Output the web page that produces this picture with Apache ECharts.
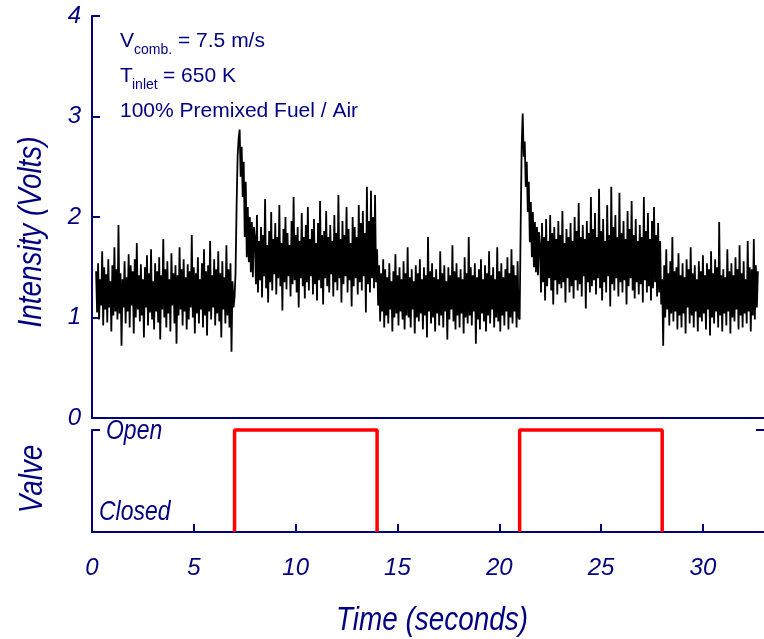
<!DOCTYPE html>
<html>
<head>
<meta charset="utf-8">
<script src="https://cdn.jsdelivr.net/npm/echarts@6/dist/echarts.min.js"></script>
<style>html,body{margin:0;padding:0;background:#fff;}#c{width:764px;height:639px;}</style>
</head>
<body>
<div id="c"></div>
<script>
// ---- data ----
const sampleStart = 0.2;   // seconds, first sample of the trace
const sampleStep = 0.05;   // seconds between samples
const intensity = [
  // 0.2 - 6.95 s : baseline (valve closed)
  1.46,1.05,1.54,0.98,1.38,1.12,1.66,0.92,1.50,1.08,
  1.43,0.95,1.58,1.10,1.36,0.86,1.52,1.02,1.70,1.06,
  1.48,0.98,1.92,1.04,1.44,0.72,1.38,1.10,1.56,0.94,
  1.40,1.06,1.63,0.90,1.52,1.12,1.46,0.84,1.58,1.00,
  1.74,1.08,1.42,0.96,1.53,1.02,1.38,0.80,1.50,1.10,
  1.62,0.92,1.44,1.05,1.68,0.98,1.36,0.88,1.54,1.06,
  1.46,0.95,1.60,0.78,1.42,1.08,1.78,1.00,1.48,0.90,
  1.56,1.04,1.38,0.86,1.64,1.12,1.44,0.94,1.52,0.74,
  1.42,1.02,1.70,1.08,1.48,0.92,1.58,1.06,1.40,0.88,
  1.53,0.98,1.46,1.10,1.82,1.00,1.50,0.84,1.44,1.04,
  1.60,0.94,1.38,1.08,1.54,0.90,1.68,1.02,1.46,0.82,
  1.52,1.06,1.76,0.98,1.42,1.10,1.58,0.92,1.48,1.04,
  1.66,0.96,1.44,0.80,1.56,1.08,1.40,0.94,1.72,1.02,
  1.48,0.90,1.54,0.66,1.36,1.10,
  // 7.0 - 7.95 s : first transient peak
  1.20,1.45,2.10,2.60,2.78,2.87,2.40,2.70,2.20,2.55,
  1.80,2.35,1.60,2.10,1.55,2.00,1.45,1.95,1.40,1.90,
  // 8.0 - 13.95 s : valve open
  1.80,1.33,2.02,1.25,1.76,1.37,1.90,1.20,1.82,1.41,
  2.18,1.29,1.72,1.15,1.86,1.35,2.05,1.27,1.78,1.43,
  1.94,1.23,1.80,1.39,2.12,1.31,1.74,1.07,1.88,1.35,
  2.00,1.28,1.84,1.41,1.72,1.21,1.96,1.33,2.20,1.37,
  1.82,1.25,1.90,1.10,1.76,1.39,2.04,1.31,1.80,1.19,
  1.92,1.35,2.10,1.27,1.78,1.41,1.88,1.23,1.98,1.33,
  1.74,1.17,1.94,1.37,2.16,1.29,1.82,1.13,1.86,1.39,
  2.06,1.31,1.80,1.25,1.92,1.43,1.76,1.21,2.02,1.35,
  1.84,1.27,2.22,1.39,1.78,1.15,1.96,1.33,1.82,1.41,
  2.10,1.25,1.88,1.37,1.74,1.11,2.00,1.31,1.90,1.39,
  1.80,1.23,2.12,1.35,1.94,1.27,2.06,1.41,1.84,1.05,
  2.30,1.33,1.96,1.25,2.26,1.39,2.00,1.29,2.22,1.35,
  // 14.0 - 20.95 s : baseline (valve closed)
  1.68,1.12,1.52,0.96,1.44,1.06,1.58,0.90,1.48,1.02,
  1.40,0.94,1.54,1.08,1.36,0.86,1.46,1.00,1.63,1.04,
  1.42,0.92,1.50,1.06,1.38,0.98,1.56,0.88,1.44,1.02,
  1.70,1.00,1.40,0.90,1.48,1.08,1.36,0.84,1.52,1.00,
  1.44,0.96,1.58,1.04,1.38,0.88,1.50,1.02,1.42,0.80,
  1.80,1.06,1.46,0.94,1.54,1.00,1.40,0.86,1.48,1.04,
  1.38,0.92,1.66,1.02,1.44,0.90,1.52,1.06,1.36,0.78,
  1.50,0.98,1.42,1.08,1.72,0.96,1.46,0.88,1.54,1.02,
  1.40,0.90,1.48,1.04,1.38,0.84,1.60,1.00,1.44,0.94,
  1.80,1.02,1.50,0.92,1.42,1.06,1.54,0.74,1.40,0.98,
  1.48,0.88,1.58,1.04,1.38,0.96,1.52,0.86,1.44,1.02,
  1.66,0.94,1.42,1.08,1.50,0.90,1.38,1.00,1.70,0.96,
  1.46,0.86,1.54,1.02,1.40,0.92,1.48,1.06,1.60,0.88,
  1.44,1.00,1.68,0.94,1.52,1.06,1.42,0.90,1.56,1.00,
  // 21.0 - 21.95 s : second transient peak
  0.98,1.90,2.70,3.03,2.60,2.75,2.30,2.55,2.05,2.35,
  1.75,2.15,1.60,2.05,1.50,1.95,1.45,1.90,1.42,1.85,
  // 22.0 - 27.95 s : valve open
  1.72,1.25,1.94,1.35,1.80,1.17,1.98,1.31,1.76,1.39,
  2.02,1.27,1.84,1.13,1.90,1.37,1.78,1.23,1.96,1.33,
  1.82,1.29,2.06,1.35,1.74,1.15,1.88,1.39,1.80,1.25,
  1.94,1.31,1.76,1.19,2.00,1.37,1.86,1.27,2.14,1.33,
  1.80,1.21,1.92,1.41,1.78,1.09,1.96,1.35,1.84,1.25,
  2.20,1.31,1.88,1.37,2.04,1.23,1.80,1.39,2.28,1.29,
  1.86,1.17,1.98,1.35,1.76,1.25,2.12,1.41,1.82,1.11,
  2.30,1.33,1.90,1.27,2.02,1.39,1.80,1.21,2.24,1.35,
  1.84,1.25,1.96,1.37,1.78,1.13,2.06,1.31,1.88,1.39,
  2.16,1.27,1.82,1.19,1.98,1.35,1.76,1.23,1.92,1.33,
  1.80,1.15,2.20,1.37,1.86,1.25,2.04,1.31,1.78,1.17,
  1.96,1.29,2.10,1.35,1.82,1.21,1.94,1.25,1.76,1.13,
  // 28.0 - 32.7 s : baseline (valve closed)
  1.38,0.72,1.52,1.00,1.68,1.08,1.44,0.92,1.56,1.04,
  1.80,0.96,1.46,1.06,1.50,0.88,1.64,1.02,1.42,0.90,
  1.54,1.04,1.40,0.84,1.58,1.10,1.48,0.94,1.70,1.02,
  1.44,0.90,1.52,1.06,1.38,0.86,1.56,1.00,1.46,0.96,
  1.62,1.04,1.42,0.88,1.54,1.08,1.48,0.82,1.66,1.00,
  1.44,0.94,1.58,1.06,1.50,0.90,1.95,1.02,1.42,0.86,
  1.48,1.04,1.40,0.92,1.68,1.06,1.46,0.84,1.54,1.00,
  1.42,0.96,1.60,1.08,1.48,0.88,1.72,1.02,1.44,0.90,
  1.56,1.04,1.38,0.94,1.76,1.06,1.50,0.86,1.48,1.02,
  1.78,0.98,1.52,1.10,1.46
];
const valveOpenTimes = [7, 21];
const valveCloseTimes = [14, 28];
const valveStates = [0, 1];            // closed, open
const valveStateLabels = ['Closed', 'Open'];
const xTickValues = [0, 5, 10, 15, 20, 25, 30];
const yTickValues = [0, 1, 2, 3, 4];
const xRange = [0, 33];
const annotation = [
  ['V', 'comb.', '= 7.5 m/s'],
  ['T', 'inlet', '= 650 K'],
  ['100% Premixed Fuel / Air', '', '']
];

// ---- build ----
const NAVY = '#000080';
const SANS = '"Liberation Sans",Arial,sans-serif';
const NARROW_SCALE = 0.82;

const trace = intensity.map((v, i) => [Math.round((sampleStart + i * sampleStep) * 1000) / 1000, v]);

const valveSeries = valveOpenTimes.map((t0, i) => ({
  type: 'line', xAxisIndex: 1, yAxisIndex: 1, clip: false, symbol: 'none',
  lineStyle: { color: '#ff0000', width: 3.5 }, z: 5,
  data: [[t0, valveStates[0]], [t0, valveStates[1]], [valveCloseTimes[i], valveStates[1]], [valveCloseTimes[i], valveStates[0]]]
}));

const chart = echarts.init(document.getElementById('c'), null, { renderer: 'canvas' });

const axisLineStyle = { color: NAVY, width: 2 };
const tickLabel = { color: NAVY, fontStyle: 'italic', fontFamily: SANS, fontSize: 24 };

// annotation graphic
const annoGraphic = [];
const lineCenters = [41, 76, 111];
annotation.forEach((parts, k) => {
  const y = lineCenters[k];
  annoGraphic.push({ type: 'text', x: 120, y: y, style: { text: parts[0], font: '21px ' + SANS, fill: NAVY, verticalAlign: 'middle' } });
  if (parts[1]) {
    const subX = k === 0 ? 134 : 132;
    const restX = k === 0 ? 178 : 163;
    annoGraphic.push({ type: 'text', x: subX, y: y + 9, style: { text: parts[1], font: '14px ' + SANS, fill: NAVY, verticalAlign: 'middle' } });
    annoGraphic.push({ type: 'text', x: restX, y: y, style: { text: parts[2], font: '21px ' + SANS, fill: NAVY, verticalAlign: 'middle' } });
  }
});

function narrowText(text, x, y, size, rot, align) {
  return { type: 'text', x: x, y: y, rotation: rot || 0, scaleX: NARROW_SCALE,
    style: { text: text, font: 'italic ' + size + 'px ' + SANS, fill: NAVY, align: align || 'center', verticalAlign: 'middle' } };
}

chart.setOption({
  animation: false,
  backgroundColor: '#fff',
  grid: [
    { left: 92, top: 16, width: 673, height: 402 },
    { left: 92, top: 430, width: 673, height: 102 }
  ],
  xAxis: [
    { type: 'value', gridIndex: 0, position: 'top', min: xRange[0], max: xRange[1],
      axisLine: { show: true, lineStyle: axisLineStyle }, axisTick: { show: false },
      axisLabel: { show: false }, splitLine: { show: false } },
    { type: 'value', gridIndex: 1, position: 'bottom', min: xRange[0], max: xRange[1], interval: 5,
      axisLine: { show: true, lineStyle: axisLineStyle },
      axisTick: { show: true, inside: true, length: 8, lineStyle: axisLineStyle, customValues: xTickValues },
      axisLabel: Object.assign({ margin: 24, customValues: xTickValues }, tickLabel),
      splitLine: { show: false } }
  ],
  yAxis: [
    { type: 'value', gridIndex: 0, position: 'left', min: 0, max: 4, interval: 1,
      axisLine: { show: true, lineStyle: axisLineStyle },
      axisTick: { show: true, inside: true, length: 8, lineStyle: axisLineStyle },
      axisLabel: Object.assign({ margin: 11, customValues: yTickValues }, tickLabel),
      splitLine: { show: false } },
    { type: 'value', gridIndex: 1, position: 'left', min: 0, max: 1, interval: 1,
      axisLine: { show: true, lineStyle: axisLineStyle },
      axisTick: { show: true, inside: true, length: 8, lineStyle: axisLineStyle, customValues: [valveStates[1]] },
      axisLabel: { show: false }, splitLine: { show: false } },
    { type: 'value', gridIndex: 0, position: 'right', min: 0, max: 4, interval: 1,
      axisLine: { show: false },
      axisTick: { show: true, inside: true, length: 8, lineStyle: axisLineStyle, customValues: [0] },
      axisLabel: { show: false }, splitLine: { show: false } },
    { type: 'value', gridIndex: 1, position: 'right', min: 0, max: 1, interval: 1,
      axisLine: { show: false },
      axisTick: { show: true, inside: true, length: 8, lineStyle: axisLineStyle, customValues: [valveStates[1]] },
      axisLabel: { show: false }, splitLine: { show: false } }
  ],
  series: [
    { type: 'line', xAxisIndex: 0, yAxisIndex: 0, symbol: 'none', sampling: false,
      lineStyle: { color: '#000', width: 1.8 }, data: trace, z: 3 }
  ].concat(valveSeries),
  graphic: annoGraphic.concat([
    narrowText('Intensity (Volts)', 32, 232, 34, Math.PI / 2),
    narrowText('Valve', 33, 479, 34, Math.PI / 2),
    narrowText('Time (seconds)', 432, 621, 34, 0),
    narrowText(valveStateLabels[1], 106, 431, 28, 0, 'left'),
    narrowText(valveStateLabels[0], 99, 512, 28, 0, 'left')
  ])
});
</script>
</body>
</html>
